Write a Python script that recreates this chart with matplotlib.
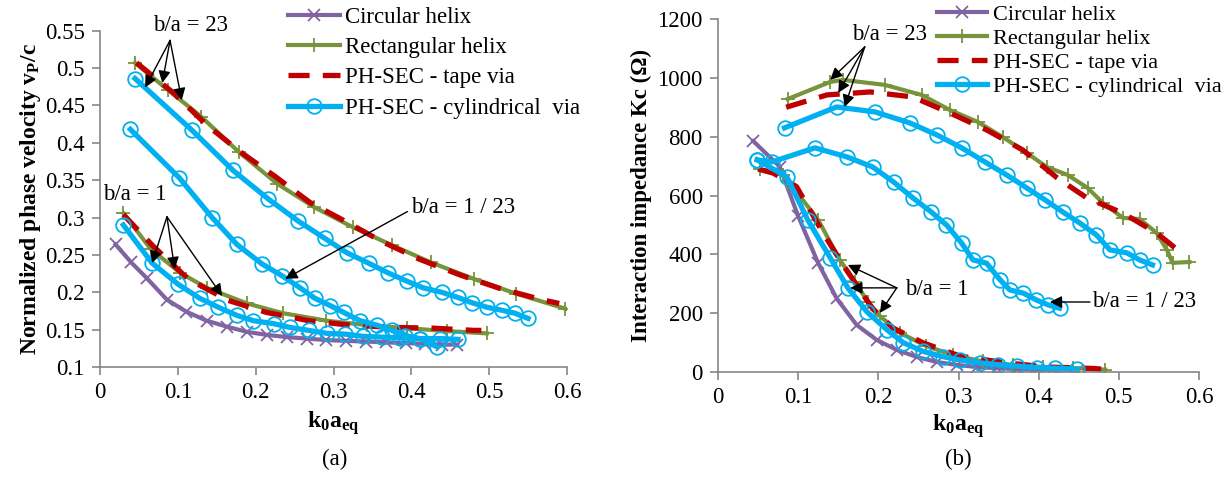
import matplotlib
matplotlib.use("Agg")
import matplotlib.pyplot as plt

plt.rcParams['font.family'] = 'Liberation Serif'
plt.rcParams['mathtext.fontset'] = 'custom'
plt.rcParams['mathtext.rm'] = 'Liberation Serif'
plt.rcParams['mathtext.it'] = 'Liberation Serif:italic'
plt.rcParams['mathtext.bf'] = 'Liberation Serif:bold'

# ---------------- (a) normalized phase velocity ----------------
a_circ_x = [0.02, 0.04, 0.06, 0.086, 0.111, 0.137, 0.163, 0.189, 0.214, 0.24, 0.266,
            0.291, 0.316, 0.342, 0.367, 0.393, 0.418, 0.44, 0.459]
a_circ_y = [0.264, 0.24, 0.219, 0.19, 0.174, 0.162, 0.154, 0.147, 0.143, 0.14, 0.138,
            0.136, 0.135, 0.134, 0.133, 0.132, 0.131, 0.13, 0.13]

a_rect1_x = [0.03, 0.065, 0.103, 0.137, 0.189, 0.235, 0.291, 0.343, 0.394, 0.446, 0.497]
a_rect1_y = [0.306, 0.258, 0.226, 0.206, 0.185, 0.172, 0.162, 0.156, 0.152, 0.148, 0.145]

a_tape1_x = [0.03, 0.068, 0.113, 0.165, 0.214, 0.268, 0.321, 0.377, 0.428, 0.48, 0.49]
a_tape1_y = [0.304, 0.262, 0.218, 0.189, 0.173, 0.162, 0.156, 0.153, 0.152, 0.149, 0.149]

a_cyl1_x = [0.03, 0.067, 0.1, 0.128, 0.152, 0.176, 0.197, 0.223, 0.244, 0.268, 0.292,
            0.315, 0.338, 0.362, 0.386, 0.411, 0.437, 0.46]
a_cyl1_y = [0.29, 0.239, 0.211, 0.192, 0.18, 0.169, 0.162, 0.158, 0.153, 0.149, 0.145,
            0.144, 0.141, 0.14, 0.139, 0.138, 0.138, 0.137]

a_rect23_x = [0.045, 0.087, 0.13, 0.178, 0.228, 0.275, 0.325, 0.375, 0.425, 0.48, 0.535, 0.598]
a_rect23_y = [0.507, 0.471, 0.435, 0.388, 0.345, 0.314, 0.287, 0.263, 0.24, 0.218, 0.198, 0.178]

a_tape23_x = [0.047, 0.094, 0.137, 0.18, 0.225, 0.27, 0.315, 0.362, 0.411, 0.463, 0.514, 0.568, 0.59]
a_tape23_y = [0.507, 0.467, 0.424, 0.388, 0.355, 0.32, 0.295, 0.268, 0.244, 0.223, 0.205, 0.19, 0.185]

a_cyl23_x = [0.045, 0.118, 0.171, 0.216, 0.255, 0.289, 0.317, 0.345, 0.37, 0.394, 0.415,
             0.439, 0.46, 0.478, 0.497, 0.516, 0.533, 0.55]
a_cyl23_y = [0.486, 0.417, 0.363, 0.325, 0.295, 0.272, 0.253, 0.239, 0.226, 0.215, 0.206,
             0.2, 0.193, 0.186, 0.18, 0.176, 0.172, 0.165]

a_cyl123_x = [0.039, 0.102, 0.144, 0.176, 0.208, 0.234, 0.257, 0.276, 0.296, 0.313, 0.334,
              0.356, 0.375, 0.392, 0.411, 0.433]
a_cyl123_y = [0.418, 0.353, 0.3, 0.264, 0.238, 0.222, 0.206, 0.192, 0.182, 0.173, 0.162,
              0.156, 0.149, 0.142, 0.138, 0.127]

# ---------------- (b) interaction impedance ----------------
b_circ_x = [0.044, 0.077, 0.1, 0.125, 0.148, 0.173, 0.198, 0.223, 0.248, 0.273, 0.298,
            0.323, 0.348, 0.373, 0.398, 0.423, 0.448]
b_circ_y = [785, 698, 530, 370, 250, 160, 109, 75, 51, 34, 24, 17, 13, 10, 7, 5, 4]

b_rect1_x = [0.052, 0.081, 0.094, 0.125, 0.152, 0.171, 0.187, 0.202, 0.227, 0.26, 0.293,
             0.33, 0.368, 0.405, 0.443, 0.483]
b_rect1_y = [690, 670, 626, 517, 381, 306, 238, 190, 133, 88, 58, 36, 24, 17, 13, 8]

b_tape1_x = [0.05, 0.069, 0.098, 0.131, 0.156, 0.177, 0.193, 0.218, 0.256, 0.302, 0.36,
             0.41, 0.468, 0.478]
b_tape1_y = [690, 676, 630, 473, 364, 279, 215, 150, 99, 54, 31, 17, 12, 10]

b_cyl1_x = [0.049, 0.086, 0.112, 0.14, 0.162, 0.186, 0.211, 0.231, 0.256, 0.281, 0.302,
            0.327, 0.349, 0.373, 0.398, 0.42, 0.448]
b_cyl1_y = [721, 663, 517, 388, 286, 204, 143, 100, 70, 52, 41, 31, 25, 20, 15, 13, 10]

b_rect23_x = [0.087, 0.14, 0.156, 0.208, 0.254, 0.289, 0.324, 0.355, 0.385, 0.41, 0.436,
              0.461, 0.48, 0.505, 0.526, 0.547, 0.56, 0.567, 0.588]
b_rect23_y = [928, 986, 993, 976, 942, 891, 850, 799, 745, 697, 670, 626, 575, 524, 520,
              473, 415, 371, 374]

b_tape23_x = [0.085, 0.136, 0.19, 0.243, 0.289, 0.335, 0.38, 0.423, 0.46, 0.505, 0.547, 0.58]
b_tape23_y = [900, 942, 952, 935, 881, 823, 755, 660, 592, 540, 473, 400]

b_cyl23_x = [0.083, 0.148, 0.196, 0.239, 0.273, 0.304, 0.333, 0.36, 0.385, 0.408, 0.43,
             0.451, 0.472, 0.489, 0.51, 0.526, 0.542]
b_cyl23_y = [830, 901, 884, 847, 806, 762, 714, 670, 626, 585, 544, 507, 466, 415, 405,
             381, 364]

b_cyl123_x = [0.049, 0.067, 0.121, 0.161, 0.193, 0.219, 0.243, 0.266, 0.285, 0.304, 0.318,
              0.335, 0.352, 0.364, 0.381, 0.397, 0.412, 0.426]
b_cyl123_y = [721, 714, 762, 731, 697, 646, 592, 544, 500, 438, 381, 370, 313, 279, 268,
              245, 228, 217]

legend_labels = ['Circular helix', 'Rectangular helix', 'PH-SEC - tape via',
                 'PH-SEC - cylindrical  via']
x_ticks = [0, 0.1, 0.2, 0.3, 0.4, 0.5, 0.6]
x_ticklabels = ['0', '0.1', '0.2', '0.3', '0.4', '0.5', '0.6']
a_yticks = [0.1, 0.15, 0.2, 0.25, 0.3, 0.35, 0.4, 0.45, 0.5, 0.55]
a_yticklabels = ['0.1', '0.15', '0.2', '0.25', '0.3', '0.35', '0.4', '0.45', '0.5', '0.55']
b_yticks = [0, 200, 400, 600, 800, 1000, 1200]

PURPLE = '#8064A2'
GREEN = '#77933C'
RED = '#C00000'
CYAN = '#00B0F0'
GRAY = '#868686'
FS = 16.5

circ_kw = dict(color=PURPLE, lw=3.0, marker='x', ms=8.5, mew=1.3)
rect_kw = dict(color=GREEN, lw=3.0, marker='+', ms=10, mew=1.3)
tape_kw = dict(color=RED, lw=3.8, ls=(0, (4, 2.5)))
cyl_kw = dict(color=CYAN, lw=3.8, marker='o', ms=10.5, mfc='none', mew=1.3)
arrow = dict(arrowstyle='-|>', color='black', lw=1.0, mutation_scale=18,
             shrinkA=0, shrinkB=0)


def style_axes(ax):
    for s in ['top', 'right']:
        ax.spines[s].set_visible(False)
    for s in ['left', 'bottom']:
        ax.spines[s].set_color(GRAY)
        ax.spines[s].set_linewidth(1.2)
    ax.tick_params(direction='out', length=6, width=1.2, color=GRAY,
                   labelsize=FS, pad=5)
    ax.set_xlim(0, 0.6)
    ax.set_xticks(x_ticks)
    ax.set_xticklabels(x_ticklabels)


fig = plt.figure(figsize=(12.27, 4.8), dpi=100)

# ---- panel (a)
ax1 = fig.add_axes([100 / 1227, 1 - 367 / 480, 467 / 1227, 336.3 / 480])
h1, = ax1.plot(a_circ_x, a_circ_y, **circ_kw)
h2, = ax1.plot(a_rect1_x, a_rect1_y, **rect_kw)
ax1.plot(a_rect23_x, a_rect23_y, **rect_kw)
h3, = ax1.plot(a_tape1_x, a_tape1_y, **tape_kw)
ax1.plot(a_tape23_x, a_tape23_y, **tape_kw)
h4, = ax1.plot(a_cyl1_x, a_cyl1_y, **cyl_kw)
ax1.plot(a_cyl23_x, a_cyl23_y, **cyl_kw)
ax1.plot(a_cyl123_x, a_cyl123_y, **cyl_kw)
style_axes(ax1)
ax1.set_ylim(0.1, 0.55)
ax1.set_yticks(a_yticks)
ax1.set_yticklabels(a_yticklabels)
ax1.set_ylabel(r'Normalized phase velocity v$_\mathbf{P}$/c', fontsize=FS + 0.5,
               fontweight='bold', labelpad=1)
ax1.set_xlabel(r'k$_\mathbf{0}$a$_\mathbf{eq}$', fontsize=FS + 0.5, fontweight='bold',
               labelpad=4)

ax1.text(0.116, 0.557, 'b/a = 23', fontsize=FS, ha='center', va='center')
for t in [(0.058, 0.474), (0.08, 0.48), (0.105, 0.457)]:
    ax1.annotate('', xy=t, xytext=(0.09, 0.537), arrowprops=arrow)
ax1.text(0.045, 0.331, 'b/a = 1', fontsize=FS, ha='center', va='center')
for t in [(0.067, 0.239), (0.096, 0.231), (0.157, 0.195)]:
    ax1.annotate('', xy=t, xytext=(0.086, 0.301), arrowprops=arrow)
ax1.text(0.4, 0.314, 'b/a = 1 / 23', fontsize=FS, ha='left', va='center')
ax1.annotate('', xy=(0.238, 0.218), xytext=(0.395, 0.308), arrowprops=arrow)

ax1.legend([h1, h2, h3, h4], legend_labels, loc='upper left',
           bbox_to_anchor=(288 / 1227, 1 - 7 / 480), bbox_transform=fig.transFigure,
           frameon=False, borderpad=0, borderaxespad=0, handlelength=2.25,
           handletextpad=0.25, labelspacing=0.4, fontsize=FS)

# ---- panel (b)
ax2 = fig.add_axes([718 / 1227, 1 - 372 / 480, 481 / 1227, 353 / 480])
g1, = ax2.plot(b_circ_x, b_circ_y, **circ_kw)
g2, = ax2.plot(b_rect1_x, b_rect1_y, **rect_kw)
ax2.plot(b_rect23_x, b_rect23_y, **rect_kw)
g3, = ax2.plot(b_tape1_x, b_tape1_y, **tape_kw)
ax2.plot(b_tape23_x, b_tape23_y, **tape_kw)
g4, = ax2.plot(b_cyl1_x, b_cyl1_y, **cyl_kw)
ax2.plot(b_cyl23_x, b_cyl23_y, **cyl_kw)
ax2.plot(b_cyl123_x, b_cyl123_y, **cyl_kw)
style_axes(ax2)
ax2.set_ylim(0, 1200)
ax2.set_yticks(b_yticks)
ax2.set_ylabel('Interaction impedance Kc (\u03a9)', fontsize=FS, fontweight='bold',
               labelpad=4)
ax2.set_xlabel(r'k$_\mathbf{0}$a$_\mathbf{eq}$', fontsize=FS + 0.5, fontweight='bold',
               labelpad=3)

ax2.text(0.214, 1146, 'b/a = 23', fontsize=FS, ha='center', va='center')
for t in [(0.14, 993), (0.15, 949), (0.158, 901)]:
    ax2.annotate('', xy=t, xytext=(0.183, 1105), arrowprops=arrow)
ax2.text(0.233, 279, 'b/a = 1', fontsize=FS, ha='left', va='center')
for t in [(0.162, 364), (0.165, 286), (0.202, 201)]:
    ax2.annotate('', xy=t, xytext=(0.223, 286), arrowprops=arrow)
ax2.text(0.466, 238, 'b/a = 1 / 23', fontsize=FS, ha='left', va='center')
ax2.annotate('', xy=(0.414, 238), xytext=(0.464, 238), arrowprops=arrow)

ax2.legend([g1, g2, g3, g4], legend_labels, loc='upper left',
           bbox_to_anchor=(937 / 1227, 1 - 4 / 480), bbox_transform=fig.transFigure,
           frameon=False, borderpad=0, borderaxespad=0, handlelength=2.25,
           handletextpad=0.25, labelspacing=0.16, fontsize=FS - 0.5)

fig.text(335 / 1227, 1 - 459 / 480, '(a)', fontsize=FS, ha='center', va='center')
fig.text(958 / 1227, 1 - 459 / 480, '(b)', fontsize=FS, ha='center', va='center')

fig.savefig('out.png', dpi=100)
